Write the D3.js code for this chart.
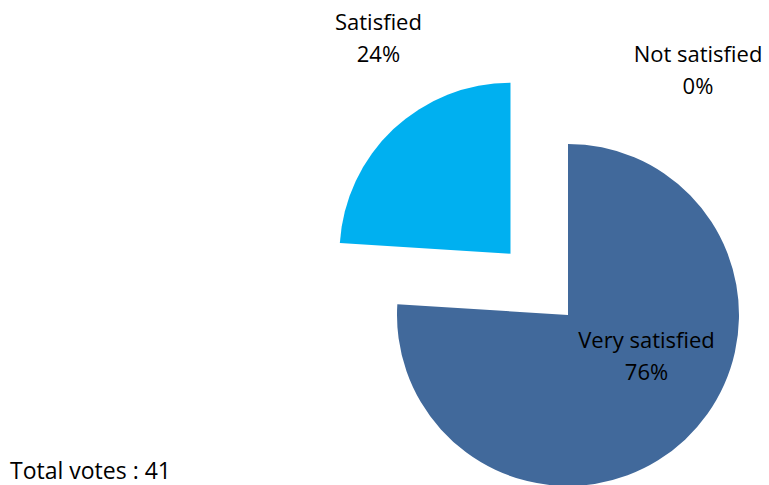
<!DOCTYPE html>
<html>
<head>
<meta charset="utf-8">
<script src="https://cdn.jsdelivr.net/npm/d3@7"></script>
<style>
  body { margin: 0; background: #fff; }
  svg { display: block; font-family: "Open Sans", Lato, sans-serif; }
</style>
</head>
<body>
<svg id="chart" width="769" height="485"></svg>
<script>
// data
var categories = ["Very satisfied", "Satisfied", "Not satisfied"];
var values = [76, 24, 0];
var colors = ["#41699b", "#00b0f0", "#7f7f7f"];
var totalVotes = 41;

var WIDTH = 769, HEIGHT = 485;
var RADIUS = 171;
var CX = 568, CY = 315;     // pie centre
var EXPLODE = 84;           // pull-out distance of the small slice
var FONT = 22;
var LINE = 32;

var svg = d3.select("#chart");
var g = svg.append("g").attr("transform", "translate(" + CX + "," + CY + ")");

var pie = d3.pie().sort(null).startAngle(0).endAngle(2 * Math.PI);
var arcs = pie(values);
var arc = d3.arc().innerRadius(0).outerRadius(RADIUS);
var midArc = d3.arc().innerRadius(0).outerRadius(RADIUS);

function offset(d, i){
	if(i != 1) return [0, 0];
	var a = (d.startAngle + d.endAngle) / 2;
	return [Math.sin(a) * EXPLODE, -Math.cos(a) * EXPLODE];
}

g.selectAll("path.slice")
	.data(arcs)
	.enter().append("path")
	.attr("class", "slice")
	.attr("d", arc)
	.attr("fill", function(d, i){ return colors[i]; })
	.attr("transform", function(d, i){
		var o = offset(d, i);
		return "translate(" + o[0] + "," + o[1] + ")";
	});

// label anchor (first baseline) for each slice
function labelPos(d, i){
	var o = offset(d, i);
	if(i == 0){
		var c = midArc.centroid(d);        // inside the big slice
		return [c[0] + 20, c[1] - 29];
	}
	var a = (d.startAngle + d.endAngle) / 2;
	// outside end, above the slice
	var px = o[0] + Math.sin(a) * RADIUS;
	var py = o[1] - Math.cos(a) * RADIUS;
	if(i == 1) return [px - 15, py - 99];
	return [px + 130, py - 82];
}

arcs.forEach(function(d, i){
	var p = labelPos(d, i);
	var t = g.append("text")
		.attr("x", p[0])
		.attr("y", p[1])
		.attr("text-anchor", "middle")
		.attr("font-size", FONT)
		.attr("fill", "#000");
	t.append("tspan").attr("x", p[0]).text(categories[i]);
	t.append("tspan").attr("x", p[0]).attr("dy", LINE).text(Math.round(values[i]) + "%");
});

svg.append("text")
	.attr("x", 10)
	.attr("y", 479)
	.attr("font-size", 23)
	.attr("fill", "#000")
	.text("Total votes : " + totalVotes);
</script>
</body>
</html>
